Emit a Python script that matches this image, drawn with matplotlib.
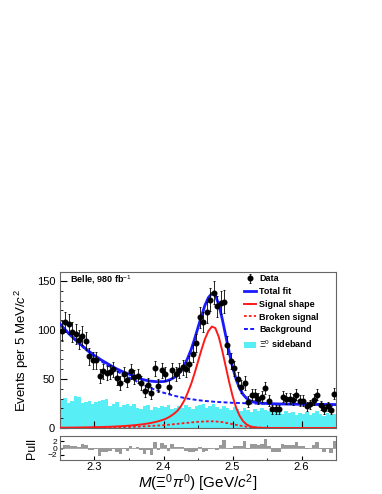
import matplotlib
matplotlib.use("Agg")
import matplotlib.pyplot as plt
import numpy as np
from matplotlib.ticker import MultipleLocator

plt.rcParams["font.family"] = ["Liberation Sans", "DejaVu Sans"]
plt.rcParams["mathtext.fontset"] = "custom"
plt.rcParams["mathtext.rm"] = "Liberation Sans"
plt.rcParams["mathtext.it"] = "Liberation Sans:italic"
plt.rcParams["mathtext.bf"] = "Liberation Sans:bold"

x_lo, x_hi = 2.25, 2.65

# data points, 5 MeV bins
data_counts = [99, 108, 106, 98, 96, 90, 94, 89, 73, 69,
               69, 53, 58, 56, 57, 60, 51, 46, 55, 49,
               58, 52, 53, 46, 38, 44, 36, 61, 43, 59,
               55, 42, 59, 55, 59, 62, 60, 65, 76, 87,
               113, 108, 118, 131, 138, 124, 128, 129, 85, 68,
               61, 50, 42, 46, 27, 34, 34, 30, 32, 41,
               28, 19, 19, 19, 32, 30, 30, 29, 34, 28,
               28, 22, 24, 29, 34, 23, 19, 22, 18, 35]
data_err = [9.9, 10.4, 10.3, 9.9, 9.8, 9.5, 9.7, 9.4, 8.5, 8.3,
            8.3, 7.3, 7.6, 7.5, 7.5, 7.7, 7.1, 6.8, 7.4, 7.0,
            7.6, 7.2, 7.3, 6.8, 6.2, 6.6, 6.0, 7.8, 6.6, 7.7,
            7.4, 6.5, 7.7, 7.4, 7.7, 7.9, 7.7, 8.1, 8.7, 9.3,
            10.6, 10.4, 10.9, 11.4, 11.7, 11.1, 11.3, 11.4, 9.2, 8.2,
            7.8, 7.1, 6.5, 6.8, 5.2, 5.8, 5.8, 5.5, 5.7, 6.4,
            5.3, 4.4, 4.4, 4.4, 5.7, 5.5, 5.5, 5.4, 5.8, 5.3,
            5.3, 4.7, 4.9, 5.4, 5.8, 4.8, 4.4, 4.7, 4.2, 5.9]

# Xi0 sideband histogram
sideband = [29, 31, 26, 28, 33, 32, 26, 27, 28, 25,
            27, 28, 29, 30, 22, 24, 27, 21, 23, 25,
            22, 24, 20, 19, 22, 23, 18, 21, 20, 22,
            21, 23, 19, 20, 22, 20, 23, 21, 19, 22,
            23, 24, 20, 22, 25, 21, 19, 22, 20, 18,
            21, 19, 17, 20, 18, 16, 19, 17, 20, 18,
            17, 15, 18, 16, 14, 17, 15, 16, 13, 15,
            14, 16, 13, 15, 17, 14, 12, 15, 13, 14]

pulls = [-0.5, 0.8, 0.9, 0.5, 0.7, 0.4, 1.1, 1.0, -0.5, -0.7,
         -0.4, -2.4, -1.3, -1.3, -0.9, -0.3, -1.3, -1.8, -0.3, -0.9,
         0.5, -0.1, 0.2, -0.6, -1.8, -0.6, -1.9, 1.8, -0.7, 1.5,
         1.0, -1.0, 1.1, 0.3, 0.4, 0.2, -1.0, -1.3, -1.1, -1.0,
         0.4, -1.1, -1.0, -0.4, 0.1, -0.6, 0.8, 2.3, -0.1, -0.2,
         0.6, 0.7, 0.7, 2.0, -0.4, 1.1, 1.3, 0.8, 1.2, 2.5,
         0.6, -1.3, -1.3, -1.3, 1.3, 1.0, 1.0, 0.9, 1.7, 0.7,
         0.7, -0.4, 0.0, 0.9, 1.7, -0.2, -1.1, -0.4, -1.4, 1.9]

# fit curves
curve_x = [2.25, 2.26, 2.27, 2.28, 2.29, 2.30, 2.31, 2.32, 2.33, 2.34,
           2.35, 2.36, 2.37, 2.38, 2.39,
           2.40, 2.405, 2.41, 2.415, 2.42, 2.425, 2.43, 2.435, 2.44, 2.445,
           2.45, 2.455, 2.46, 2.465, 2.47, 2.475, 2.48, 2.485, 2.49, 2.495,
           2.50, 2.505, 2.51, 2.515, 2.52, 2.525, 2.53, 2.535, 2.54,
           2.55, 2.56, 2.57, 2.58, 2.59, 2.60, 2.61, 2.62, 2.63, 2.64, 2.65]
bkg_curve = [106, 98, 91, 84.5, 78.5, 73, 68, 63.5, 59, 55,
             51.5, 48, 44, 41, 38.5,
             36, 35, 34, 33, 32.2, 31.4, 30.7, 30, 29.4, 28.9,
             28.4, 28, 27.6, 27.3, 27.0, 26.7, 26.5, 26.3, 26.1, 25.9,
             25.7, 25.6, 25.5, 25.4, 25.2, 25.1, 25.0, 24.95, 24.9,
             24.75, 24.6, 24.5, 24.4, 24.3, 24.2, 24.15, 24.1, 24.0, 23.95, 23.9]
sig_curve = [0.3, 0.35, 0.45, 0.55, 0.65, 0.8, 1.0, 1.2, 1.5, 1.9,
             2.4, 3.0, 3.8, 4.9, 6.4,
             8.5, 10, 12, 14.5, 17.5, 22, 28, 36, 45, 56,
             68, 80, 91, 99, 103.5, 102, 93, 79, 63, 47,
             32.5, 21, 12.7, 7.1, 3.8, 1.9, 0.9, 0.4, 0.2,
             0.05, 0, 0, 0, 0, 0, 0, 0, 0, 0, 0]
broken_curve = [0, 0, 0.05, 0.1, 0.15, 0.2, 0.3, 0.45, 0.6, 0.8,
                1.05, 1.3, 1.6, 2.0, 2.4,
                2.9, 3.2, 3.5, 3.9, 4.2, 4.6, 5.0, 5.3, 5.7, 6.0,
                6.3, 6.5, 6.7, 6.8, 6.8, 6.7, 6.4, 6.0, 5.3, 4.6,
                3.9, 3.2, 2.5, 1.9, 1.4, 1.0, 0.7, 0.5, 0.35,
                0.15, 0.05, 0, 0, 0, 0, 0, 0, 0, 0, 0]
total_curve = [106.3, 98.4, 91.5, 85.2, 79.3, 74.0, 69.3, 65.2, 61.1, 57.7,
               55.0, 52.3, 49.4, 47.9, 47.3,
               47.4, 48.2, 49.5, 51.4, 53.9, 58.0, 63.7, 71.3, 80.1, 90.9,
               102.7, 114.5, 125.3, 133.1, 137.3, 135.4, 125.9, 111.3, 94.4, 77.5,
               62.1, 49.8, 40.7, 34.4, 30.4, 28.0, 26.6, 25.9, 25.5,
               25.0, 24.7, 24.5, 24.4, 24.3, 24.2, 24.15, 24.1, 24.0, 23.95, 23.9]

edges = np.linspace(x_lo, x_hi, len(data_counts) + 1)
centers = 0.5 * (edges[:-1] + edges[1:])

fig = plt.figure(figsize=(3.82, 4.94), dpi=100)
ax = fig.add_axes([0.157, 0.1336, 0.723, 0.3154])
axp = fig.add_axes([0.157, 0.0688, 0.723, 0.0486])

h_sb = ax.stairs(sideband, edges, fill=True, color="#58eef6", lw=0, zorder=1)
h_bkg, = ax.plot(curve_x, bkg_curve, color="#1a1aff", lw=1.4, ls=(0, (2, 1.2)), zorder=3)
h_brk, = ax.plot(curve_x, broken_curve, color="#ff1a1a", lw=1.3, ls=(0, (1.5, 1.2)), zorder=3)
h_sig, = ax.plot(curve_x, sig_curve, color="#ff1a1a", lw=1.4, zorder=3)
h_tot, = ax.plot(curve_x, total_curve, color="#1a1aff", lw=2.0, zorder=4)
h_dat = ax.errorbar(centers, data_counts, yerr=data_err, fmt="o", color="black",
                    ms=3.3, elinewidth=0.6, capsize=1, capthick=0.6, zorder=5)

ax.set_xlim(x_lo, x_hi)
ax.set_ylim(0, 159)
ax.yaxis.set_major_locator(MultipleLocator(50))
ax.yaxis.set_minor_locator(MultipleLocator(10))
ax.xaxis.set_major_locator(MultipleLocator(0.1))
ax.xaxis.set_minor_locator(MultipleLocator(0.05))
ax.tick_params(which="both", direction="in", top=False, right=False, labelbottom=False)
ax.tick_params(which="major", length=5, width=0.8, labelsize=8)
ax.tick_params(which="minor", length=2.5, width=0.6)
for s in ax.spines.values():
    s.set_color("#666666")
    s.set_linewidth(0.8)
ax.set_ylabel(r"Events per 5 MeV/$c^2$", fontsize=9.5, labelpad=4)

ax.text(0.036, 0.955, r"Belle, 980 fb$^{-1}$", transform=ax.transAxes,
        fontsize=6.5, fontweight="bold", va="center", ha="left")

leg = ax.legend([h_dat, h_tot, h_sig, h_brk, h_bkg, h_sb],
                ["Data", "Total fit", "Signal shape", "Broken signal", "Background",
                 r"$\Xi^0$ sideband"],
                loc="upper left", bbox_to_anchor=(0.655, 1.01), frameon=False,
                prop={"size": 6.5, "weight": "bold"}, handlelength=1.3,
                handletextpad=0.35, labelspacing=0.42, borderaxespad=0)

axp.bar(centers, pulls, width=edges[1] - edges[0], color="#999999", lw=0)
axp.axhline(0, color="#999999", lw=0.6)
axp.set_xlim(x_lo, x_hi)
axp.set_ylim(-3.5, 3.5)
axp.set_yticks([-2, 0, 2])
axp.xaxis.set_major_locator(MultipleLocator(0.1))
axp.xaxis.set_minor_locator(MultipleLocator(0.05))
axp.tick_params(which="both", direction="in", top=False, right=False)
axp.tick_params(axis="y", labelsize=6, length=3, pad=2)
axp.tick_params(axis="x", which="major", labelsize=8, length=3, pad=1.5)
axp.tick_params(axis="x", which="minor", length=1.5)
for s in axp.spines.values():
    s.set_color("#666666")
    s.set_linewidth(0.8)
axp.set_ylabel("Pull", fontsize=9, labelpad=7)
fig.text(0.518, 0.021, r"$M(\Xi^0\pi^0)$ [GeV/$c^2$]", fontsize=11,
         ha="center", va="center")

fig.savefig("out.png", dpi=100)
